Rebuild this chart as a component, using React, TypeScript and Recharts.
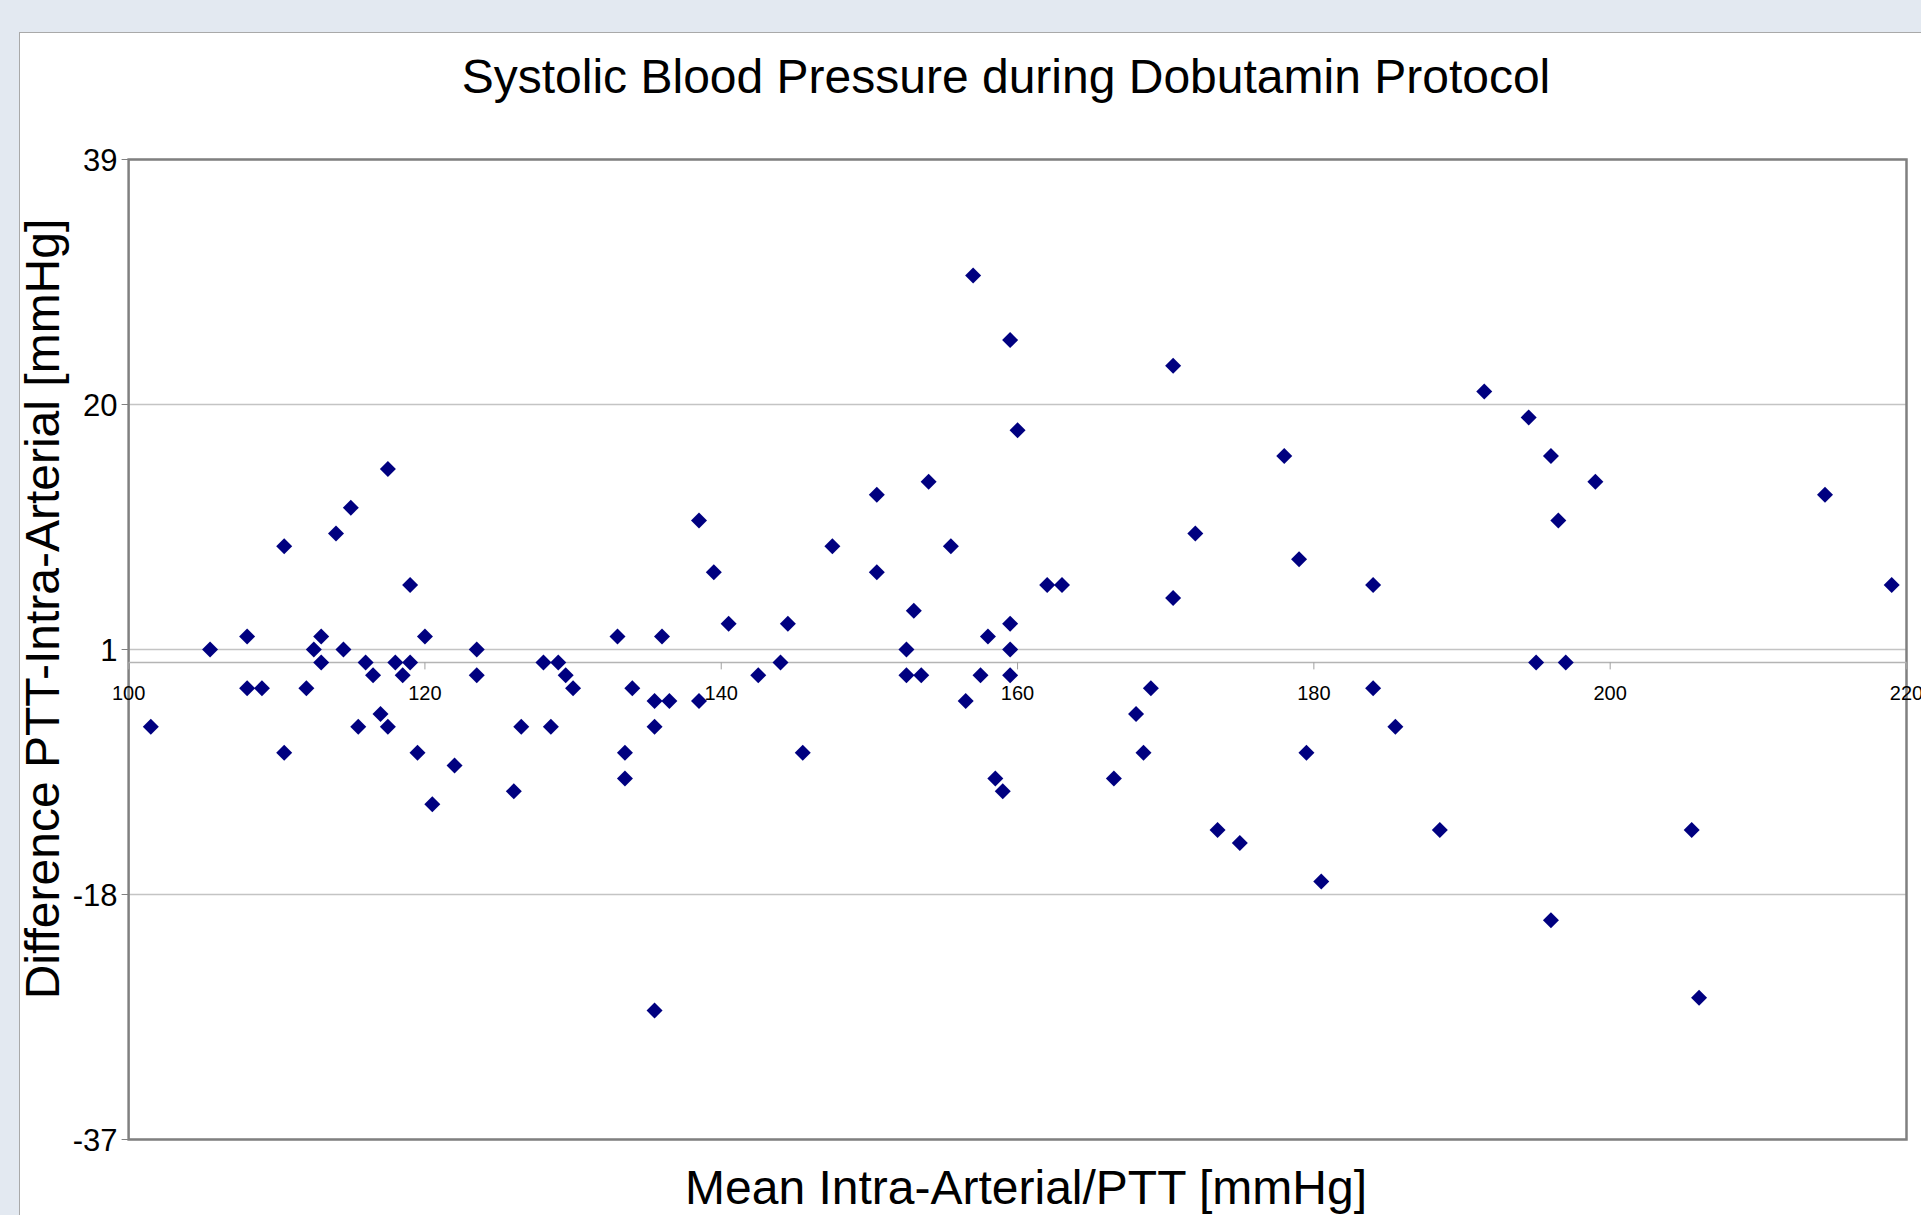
import React from "react";
import {
  ScatterChart,
  Scatter,
  XAxis,
  YAxis,
  CartesianGrid,
  ReferenceLine,
  ReferenceArea,
} from "recharts";

// Bland-Altman points: mean (x) vs difference (y)
const MEAN_VALUES = [
  101.5, 105.5, 108, 108, 109, 110.5, 110.5, 112, 112.5, 113, 113, 114, 114.5, 115,
  115.5, 116, 116.5, 117, 117.5, 117.5, 118, 118.5, 119, 119, 119.5, 120, 120.5, 122,
  123.5, 123.5, 126, 126.5, 128, 128.5, 129, 129.5, 130, 133, 133.5, 133.5, 134,
  135.5, 135.5, 135.5, 136, 136.5, 138.5, 138.5, 139.5, 140.5, 142.5, 144, 144.5,
  145.5, 147.5, 150.5, 150.5, 152.5, 152.5, 153, 153.5, 154, 155.5, 156.5, 157,
  157.5, 158, 158.5, 159, 159.5, 159.5, 159.5, 159.5, 160, 162, 163, 166.5, 168,
  168.5, 169, 170.5, 170.5, 172, 173.5, 175, 178, 179, 179.5, 180.5, 184, 184,
  185.5, 188.5, 191.5, 194.5, 195, 196, 196, 196.5, 197, 199, 205.5, 206, 214.5, 219,
];
const DIFF_VALUES = [
  -5, 1, 2, -2, -2, 9, -7, -2, 1, 2, 0, 10, 1, 12,
  -5, 0, -1, -4, 15, -5, 0, -1, 6, 0, -7, 2, -11, -8,
  1, -1, -10, -5, 0, -5, 0, -1, -2, 2, -7, -9, -2,
  -3, -5, -27, 2, -3, 11, -3, 7, 3, -1, 0, 3,
  -7, 9, 13, 7, 1, -1, 4, -1, 14, 9, -3, 30,
  -1, 2, -9, -10, 25, 3, 1, -1, 18, 6, 6, -9, -4,
  -7, -2, 23, 5, 10, -13, -14, 16, 8, -7, -17, 6, -2,
  -5, -13, 21, 19, 0, -20, 16, 11, 0, 14, -13, -26, 13, 6,
];

const X_TICKS = [100, 120, 140, 160, 180, 200, 220];
const Y_TICKS = [39, 20, 1, -18, -37];

const points = MEAN_VALUES.map((x, i) => ({ x, y: DIFF_VALUES[i] }));

const W = 1921;
const H = 1215;
const PLOT_LEFT = 128.6;
const PLOT_TOP = 159.5;
const PLOT_RIGHT = 1906.5;
const PLOT_BOTTOM = 1139.5;
const Y_AXIS_W = 100;
const X_AXIS_H = 30;
const Y_MIN = -37;
const Y_MAX = 39;

const FONT = '"Liberation Sans", Arial, Helvetica, sans-serif';

// y pixel where the x axis crosses (value 0)
const ZERO_Y = PLOT_TOP + ((PLOT_BOTTOM - PLOT_TOP) * (Y_MAX - 0)) / (Y_MAX - Y_MIN);

const XTick = (props: any) => {
  const { x, payload } = props;
  return (
    <g>
      <line x1={x} x2={x} y1={ZERO_Y} y2={ZERO_Y + 7} stroke="#a0a0a0" strokeWidth={1} />
      <text
        x={x}
        y={ZERO_Y + 31}
        textAnchor="middle"
        dominantBaseline="central"
        fontSize={20}
        fontFamily={FONT}
        fill="#000"
      >
        {payload.value}
      </text>
    </g>
  );
};

const Diamond = (props: any) => {
  const { cx, cy } = props;
  const r = 8;
  return (
    <polygon
      points={`${cx},${cy - r} ${cx + r},${cy} ${cx},${cy + r} ${cx - r},${cy}`}
      fill="#000080"
    />
  );
};

export default function App() {
  return (
    <div
      style={{
        position: "absolute",
        left: 0,
        top: 0,
        width: W,
        height: H,
        overflow: "hidden",
        background: "#e3e9f1",
        fontFamily: FONT,
      }}
    >
      <div
        style={{
          position: "absolute",
          left: 19,
          top: 32,
          width: W,
          height: H,
          background: "#fff",
          borderLeft: "1px solid #a9a9a9",
          borderTop: "1px solid #a9a9a9",
        }}
      />
      <div style={{ position: "absolute", left: 0, top: 0 }}>
        <ScatterChart
          width={W}
          height={H}
          margin={{
            top: PLOT_TOP,
            right: W - PLOT_RIGHT,
            bottom: H - PLOT_BOTTOM - X_AXIS_H,
            left: PLOT_LEFT - Y_AXIS_W,
          }}
        >
          <CartesianGrid vertical={false} stroke="#c4c4c4" strokeWidth={1.5} />
          <XAxis
            type="number"
            dataKey="x"
            domain={[100, 220]}
            ticks={X_TICKS}
            allowDataOverflow
            axisLine={false}
            tickLine={false}
            tick={<XTick />}
            height={X_AXIS_H}
            interval={0}
          />
          <YAxis
            type="number"
            dataKey="y"
            domain={[Y_MIN, Y_MAX]}
            ticks={Y_TICKS}
            allowDataOverflow
            axisLine={false}
            tickLine={{ stroke: "#808080" }}
            tickSize={7}
            tickMargin={4}
            width={Y_AXIS_W}
            interval={0}
            tick={{ fontSize: 31, fill: "#000", fontFamily: FONT }}
          />
          <ReferenceLine y={0} stroke="#b4b4b4" strokeWidth={1.5} />
          <ReferenceArea
            x1={100}
            x2={220}
            y1={Y_MIN}
            y2={Y_MAX}
            fill="none"
            fillOpacity={0}
            stroke="#808080"
            strokeWidth={2.5}
          />
          <Scatter data={points} shape={<Diamond />} isAnimationActive={false} />
        </ScatterChart>
      </div>
      <div
        style={{
          position: "absolute",
          left: 1006,
          top: 53.4,
          transform: "translateX(-50%)",
          whiteSpace: "nowrap",
          fontSize: 48,
          lineHeight: 1,
          color: "#000",
        }}
      >
        Systolic Blood Pressure during Dobutamin Protocol
      </div>
      <div
        style={{
          position: "absolute",
          left: 1026,
          top: 1164,
          transform: "translateX(-50%)",
          whiteSpace: "nowrap",
          fontSize: 48,
          lineHeight: 1,
          color: "#000",
        }}
      >
        Mean Intra-Arterial/PTT [mmHg]
      </div>
      <div
        style={{
          position: "absolute",
          left: 43.4,
          top: 608.5,
          transform: "translate(-50%, -50%) rotate(-90deg)",
          whiteSpace: "nowrap",
          fontSize: 48,
          lineHeight: 1,
          color: "#000",
        }}
      >
        Difference PTT-Intra-Arterial [mmHg]
      </div>
    </div>
  );
}
